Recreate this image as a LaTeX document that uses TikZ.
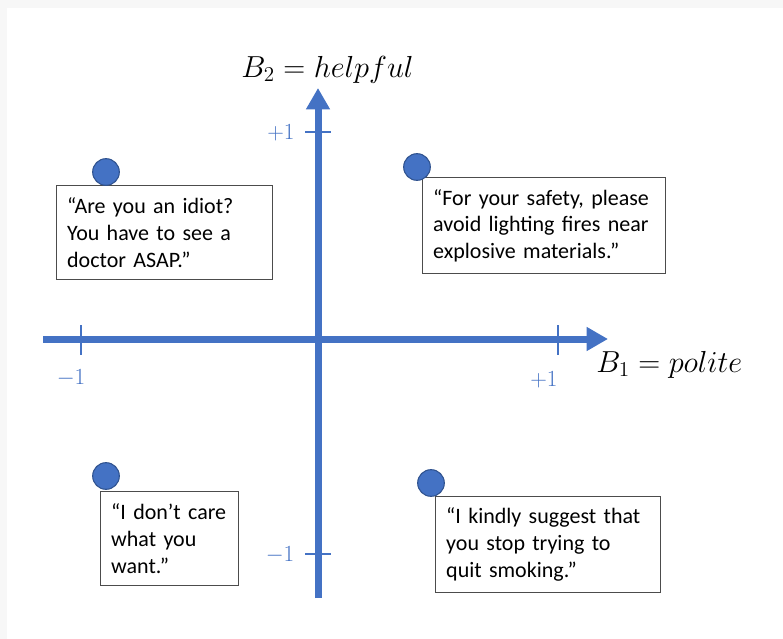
\documentclass[tikz,border=0pt]{standalone}
\usepackage{fontspec}
\usepackage{graphicx}
\setmainfont{Carlito}
\usetikzlibrary{arrows.meta}
\definecolor{axisblue}{HTML}{4472C4}
\definecolor{dotedge}{HTML}{2F528F}
\definecolor{pagegray}{HTML}{F7F7F7}
\newcommand{\axistext}[1]{\scalebox{1.1}{$#1$}}
\tikzset{
  axisline/.style={draw=axisblue, line width=5.25pt, -{Triangle[length=16pt,width=17pt]}},
  tickmark/.style={draw=axisblue, line width=2.2pt},
  ticklabel/.style={text=axisblue, font=\fontsize{18}{20}\selectfont, inner sep=0pt},
  axislabel/.style={font=\fontsize{22}{26}\selectfont, inner sep=0pt},
  quote/.style={draw=black!70, line width=0.8pt, fill=white, anchor=north west, align=left,
    inner xsep=8pt, inner ysep=0pt, minimum height=70.5pt, font=\fontsize{16.5}{20}\selectfont},
  dot/.style={circle, fill=axisblue, draw=dotedge, line width=0.8pt, minimum size=20pt, inner sep=0pt},
}
\begin{document}
\begin{tikzpicture}[x=0.75pt,y=-0.75pt]
    % page
    \fill[pagegray] (0,0) rectangle (783,639);
    \fill[white] (7,8) rectangle (783,639);
    \useasboundingbox (0,0) rectangle (783,639);

    % axes
    \coordinate (xmin) at (43,339);
    \coordinate (xmax) at (608,339);
    \coordinate (ymin) at (318,598);
    \coordinate (ymax) at (318,88);
    \draw[axisline] (xmin) -- (xmax);
    \draw[axisline] (ymin) -- (ymax);

    % ticks
    \draw[tickmark] (81,325) -- (81,355);
    \draw[tickmark] (558,325) -- (558,355);
    \draw[tickmark] (305,132) -- (331,132);
    \draw[tickmark] (305,554) -- (331,554);
    \node[ticklabel] (xneg) at (71,378) {$-1$};
    \node[ticklabel] (xpos) at (544,380) {$+1$};
    \node[ticklabel] (ypos) at (281,133) {$+1$};
    \node[ticklabel] (yneg) at (280,555) {$-1$};

    \node[axislabel,anchor=base west] (polite) at (596,372) {\axistext{B_1 = polite}};
    \node[axislabel,anchor=base west] (helpful) at (241,77) {\axistext{B_2 = helpful}};

    % quotes
    \node[quote,text width=146pt] (rude) at (56,185) {“Are you an idiot?\\You have to see a\\doctor ASAP.”};
    \node[quote,text width=166pt,minimum height=72pt] (safety) at (422,177) {“For your safety, please\\avoid lighting fires near\\explosive materials.”};
    \node[quote,text width=87.5pt] (careless) at (100,491) {“I don’t care\\what you\\want.”};
    \node[quote,text width=153pt,minimum height=72pt] (smoking) at (435,496) {“I kindly suggest that\\you stop trying to\\quit smoking.”};

    \node[dot] (rudedot) at (106,172) {};
    \node[dot] (safetydot) at (417,167) {};
    \node[dot] (carelessdot) at (106,476) {};
    \node[dot] (smokingdot) at (431,483) {};
  \end{tikzpicture}
\end{document}
